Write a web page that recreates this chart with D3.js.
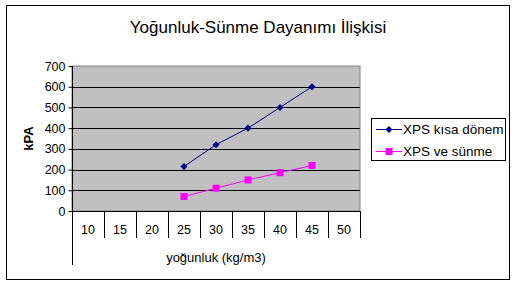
<!DOCTYPE html>
<html>
<head>
<meta charset="utf-8">
<script src="https://cdn.jsdelivr.net/npm/d3@7"></script>
<style>
body { margin: 0; background: #fff; }
text { font-family: "Liberation Sans", Arial, sans-serif; }
</style>
</head>
<body>
<div id="chart"></div>
<script>
// Chart data
var categories = ['10', '15', '20', '25', '30', '35', '40', '45', '50'];
var seriesNames = ['XPS kısa dönem', 'XPS ve sünme'];
var kisaDonem = [null, null, null, 215, 320, 400, 500, 600, null];
var sunme = [null, null, null, 70, 110, 150, 185, 220, null];
var yTicks = [0, 100, 200, 300, 400, 500, 600, 700];

var width = 516, height = 285;
var plot = { left: 72, top: 66, right: 360, bottom: 211 };

var svg = d3.select('#chart').append('svg')
    .attr('width', width)
    .attr('height', height);

// outer frame
svg.append('rect')
    .attr('x', 6.5).attr('y', 5.5)
    .attr('width', 503).attr('height', 274)
    .attr('fill', '#fff').attr('stroke', '#000').attr('stroke-width', 1);

svg.append('text')
    .attr('x', 258).attr('y', 33)
    .attr('text-anchor', 'middle')
    .style('font-size', '17px')
    .text('Yoğunluk-Sünme Dayanımı İlişkisi');

var x = d3.scaleBand().domain(categories).range([plot.left, plot.right]);
var y = d3.scaleLinear().domain([0, 700]).range([plot.bottom, plot.top]);

// plot background
svg.append('rect')
    .attr('x', plot.left).attr('y', plot.top)
    .attr('width', plot.right - plot.left).attr('height', plot.bottom - plot.top)
    .attr('fill', '#c0c0c0')
    .attr('stroke', '#808080').attr('stroke-width', 1);

// gridlines
svg.selectAll('line.grid')
    .data(yTicks.filter(function(d) { return d > 0 && d < 700; }))
    .enter().append('line')
    .attr('class', 'grid')
    .attr('x1', plot.left).attr('x2', plot.right)
    .attr('y1', function(d) { return Math.round(y(d)) + 0.5; })
    .attr('y2', function(d) { return Math.round(y(d)) + 0.5; })
    .attr('stroke', '#000');

// y axis
var yAxis = svg.append('g')
    .attr('transform', 'translate(' + (plot.left + 0.5) + ',0)')
    .call(d3.axisLeft(y).tickValues(yTicks).tickSize(4).tickPadding(3));
yAxis.select('.domain').attr('d', 'M0,' + plot.top + 'V' + plot.bottom);
yAxis.selectAll('text').style('font-size', '12.5px').attr('fill', '#000');
yAxis.selectAll('.tick line').attr('stroke', '#000');

svg.append('text')
    .attr('transform', 'translate(33,' + ((plot.top + plot.bottom) / 2) + ') rotate(-90)')
    .attr('text-anchor', 'middle')
    .style('font-size', '13px')
    .style('font-weight', 'bold')
    .text('kPA');

// x axis (category table style)
var xg = svg.append('g');
xg.append('line')
    .attr('x1', plot.left).attr('x2', plot.right)
    .attr('y1', plot.bottom + 0.5).attr('y2', plot.bottom + 0.5)
    .attr('stroke', '#000');
xg.append('line')
    .attr('x1', plot.left + 0.5).attr('x2', plot.left + 0.5)
    .attr('y1', plot.bottom).attr('y2', 265)
    .attr('stroke', '#000');
xg.selectAll('line.sep')
    .data(categories)
    .enter().append('line')
    .attr('class', 'sep')
    .attr('x1', function(d) { return Math.round(x(d) + x.bandwidth()) + 0.5; })
    .attr('x2', function(d) { return Math.round(x(d) + x.bandwidth()) + 0.5; })
    .attr('y1', plot.bottom).attr('y2', 238)
    .attr('stroke', '#000');
xg.selectAll('text.cat')
    .data(categories)
    .enter().append('text')
    .attr('class', 'cat')
    .attr('x', function(d) { return x(d) + x.bandwidth() / 2; })
    .attr('y', 234)
    .attr('text-anchor', 'middle')
    .style('font-size', '12.5px')
    .text(function(d) { return d; });

svg.append('text')
    .attr('x', (plot.left + plot.right) / 2).attr('y', 262)
    .attr('text-anchor', 'middle')
    .style('font-size', '13px')
    .text('yoğunluk (kg/m3)');

// series
var cx = function(i) { return x(categories[i]) + x.bandwidth() / 2; };
var line = d3.line()
    .defined(function(d) { return d != null; })
    .x(function(d, i) { return cx(i); })
    .y(function(d) { return y(d); });

svg.append('path').datum(kisaDonem)
    .attr('d', line).attr('fill', 'none').attr('stroke', '#000080').attr('stroke-width', 1);
svg.append('path').datum(sunme)
    .attr('d', line).attr('fill', 'none').attr('stroke', '#ff00ff').attr('stroke-width', 1);

var diamond = d3.symbol().type(d3.symbolDiamond2).size(32);
svg.selectAll('path.mk1')
    .data(kisaDonem.map(function(v, i) { return { v: v, i: i }; }).filter(function(d) { return d.v != null; }))
    .enter().append('path')
    .attr('class', 'mk1')
    .attr('d', diamond)
    .attr('transform', function(d) { return 'translate(' + cx(d.i) + ',' + y(d.v) + ')'; })
    .attr('fill', '#000080');
svg.selectAll('rect.mk2')
    .data(sunme.map(function(v, i) { return { v: v, i: i }; }).filter(function(d) { return d.v != null; }))
    .enter().append('rect')
    .attr('class', 'mk2')
    .attr('x', function(d) { return cx(d.i) - 3.5; })
    .attr('y', function(d) { return y(d.v) - 3.5; })
    .attr('width', 7).attr('height', 7)
    .attr('fill', '#ff00ff');

// legend
var lg = svg.append('g');
lg.append('rect')
    .attr('x', 371.5).attr('y', 118.5)
    .attr('width', 134).attr('height', 42)
    .attr('fill', '#fff').attr('stroke', '#000');
var colors = ['#000080', '#ff00ff'];
seriesNames.forEach(function(name, i) {
    var ly = 129 + i * 22;
    lg.append('line')
        .attr('x1', 376).attr('x2', 402)
        .attr('y1', ly + 0.5).attr('y2', ly + 0.5)
        .attr('stroke', colors[i]);
    if (i === 0) {
        lg.append('path').attr('d', diamond)
            .attr('transform', 'translate(389,' + (ly + 0.5) + ')')
            .attr('fill', colors[i]);
    } else {
        lg.append('rect')
            .attr('x', 385.5).attr('y', ly - 3)
            .attr('width', 7).attr('height', 7)
            .attr('fill', colors[i]);
    }
    lg.append('text')
        .attr('x', 403).attr('y', ly + 5)
        .style('font-size', '13.5px')
        .text(name);
});
</script>
</body>
</html>
